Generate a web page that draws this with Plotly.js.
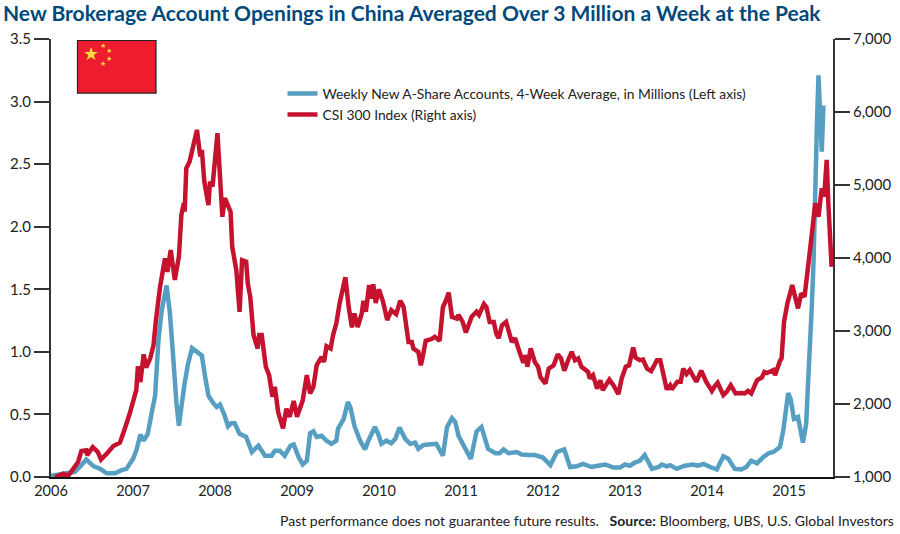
<!DOCTYPE html>
<html><head><meta charset="utf-8">
<script src="https://cdn.plot.ly/plotly-3.0.1.min.js"></script>
<style>html,body{margin:0;padding:0;background:#fff}#c{width:900px;height:534px}</style>
</head><body><div id="c"></div>
<script>
const chartTitle = "New Brokerage Account Openings in China Averaged Over 3 Million a Week at the Peak";
const blueName = "Weekly New A-Share Accounts, 4-Week Average, in Millions (Left axis)";
const redName = "CSI 300 Index (Right axis)";
const footer = "Past performance does not guarantee future results.   <b>Source:</b> Bloomberg, UBS, U.S. Global Investors";
const yearTicks = [2006,2007,2008,2009,2010,2011,2012,2013,2014,2015];

const accountYears = [2006.0,2006.19,2006.29,2006.35,2006.43,2006.52,2006.6,2006.68,2006.78,2006.86,2006.92,2007.0,2007.04,2007.09,2007.13,2007.18,2007.23,2007.27,2007.31,2007.35,2007.41,2007.45,2007.49,2007.53,2007.56,2007.59,2007.63,2007.67,2007.72,2007.78,2007.84,2007.88,2007.92,2007.98,2008.02,2008.06,2008.11,2008.16,2008.2,2008.24,2008.3,2008.38,2008.45,2008.53,2008.61,2008.69,2008.73,2008.79,2008.85,2008.92,2008.96,2009.02,2009.07,2009.12,2009.16,2009.2,2009.24,2009.3,2009.36,2009.42,2009.48,2009.5,2009.57,2009.62,2009.65,2009.7,2009.77,2009.83,2009.87,2009.95,2009.99,2010.03,2010.09,2010.15,2010.2,2010.25,2010.32,2010.38,2010.44,2010.48,2010.54,2010.6,2010.7,2010.78,2010.83,2010.89,2010.93,2010.97,2011.03,2011.12,2011.19,2011.25,2011.33,2011.42,2011.47,2011.52,2011.58,2011.68,2011.74,2011.82,2011.9,2012.0,2012.09,2012.17,2012.26,2012.33,2012.41,2012.49,2012.59,2012.67,2012.76,2012.86,2012.94,2013.0,2013.06,2013.12,2013.18,2013.24,2013.33,2013.41,2013.45,2013.51,2013.55,2013.63,2013.73,2013.83,2013.89,2013.96,2014.04,2014.12,2014.2,2014.26,2014.34,2014.42,2014.48,2014.54,2014.61,2014.69,2014.75,2014.81,2014.89,2014.93,2014.99,2015.02,2015.06,2015.11,2015.17,2015.21,2015.24,2015.28,2015.3,2015.34,2015.36,2015.4,2015.42];
const accountValues = [0.01,0.03,0.04,0.08,0.14,0.085,0.065,0.03,0.03,0.055,0.065,0.145,0.21,0.34,0.29,0.345,0.52,0.65,1.09,1.33,1.53,1.31,0.96,0.59,0.41,0.56,0.75,0.9,1.03,1.0,0.97,0.8,0.65,0.59,0.56,0.58,0.505,0.405,0.43,0.43,0.345,0.32,0.2,0.25,0.17,0.17,0.21,0.21,0.17,0.25,0.26,0.16,0.1,0.13,0.35,0.365,0.32,0.33,0.29,0.265,0.29,0.385,0.465,0.6,0.56,0.41,0.29,0.22,0.29,0.4,0.345,0.265,0.29,0.27,0.305,0.395,0.305,0.265,0.275,0.225,0.255,0.26,0.265,0.17,0.4,0.47,0.44,0.33,0.255,0.145,0.365,0.4,0.225,0.19,0.19,0.22,0.19,0.2,0.18,0.175,0.175,0.155,0.095,0.2,0.22,0.08,0.085,0.105,0.08,0.09,0.1,0.075,0.075,0.1,0.09,0.115,0.13,0.175,0.065,0.08,0.1,0.085,0.095,0.065,0.09,0.1,0.09,0.105,0.08,0.06,0.165,0.145,0.065,0.06,0.08,0.13,0.11,0.16,0.19,0.2,0.24,0.37,0.67,0.625,0.465,0.48,0.275,0.425,0.85,1.385,1.73,2.8,3.21,2.6,2.97];

const csiYears = [2006.05,2006.15,2006.21,2006.33,2006.37,2006.43,2006.44,2006.51,2006.57,2006.61,2006.68,2006.76,2006.84,2006.88,2006.92,2006.96,2007.0,2007.04,2007.06,2007.09,2007.13,2007.16,2007.21,2007.25,2007.28,2007.33,2007.39,2007.42,2007.46,2007.51,2007.56,2007.59,2007.62,2007.63,2007.65,2007.69,2007.78,2007.82,2007.84,2007.87,2007.92,2007.94,2007.97,2008.03,2008.09,2008.12,2008.19,2008.21,2008.26,2008.3,2008.33,2008.38,2008.4,2008.43,2008.47,2008.52,2008.54,2008.57,2008.62,2008.66,2008.7,2008.73,2008.77,2008.83,2008.87,2008.91,2008.96,2009.0,2009.07,2009.12,2009.16,2009.2,2009.24,2009.3,2009.33,2009.36,2009.41,2009.44,2009.48,2009.52,2009.59,2009.63,2009.67,2009.7,2009.74,2009.79,2009.81,2009.84,2009.88,2009.9,2009.93,2009.96,2010.0,2010.05,2010.1,2010.15,2010.21,2010.26,2010.3,2010.36,2010.4,2010.42,2010.48,2010.51,2010.53,2010.57,2010.64,2010.68,2010.74,2010.78,2010.81,2010.85,2010.89,2010.95,2010.97,2011.02,2011.06,2011.13,2011.19,2011.22,2011.28,2011.31,2011.35,2011.4,2011.43,2011.46,2011.5,2011.55,2011.62,2011.66,2011.7,2011.76,2011.79,2011.81,2011.85,2011.9,2011.94,2011.97,2012.03,2012.07,2012.13,2012.18,2012.22,2012.26,2012.31,2012.35,2012.39,2012.43,2012.47,2012.55,2012.57,2012.61,2012.66,2012.7,2012.73,2012.81,2012.86,2012.92,2012.96,2013.01,2013.05,2013.1,2013.13,2013.18,2013.22,2013.27,2013.32,2013.39,2013.43,2013.51,2013.55,2013.57,2013.64,2013.68,2013.71,2013.75,2013.79,2013.87,2013.93,2013.99,2014.06,2014.09,2014.13,2014.2,2014.24,2014.29,2014.35,2014.42,2014.46,2014.5,2014.54,2014.61,2014.67,2014.7,2014.73,2014.81,2014.83,2014.89,2014.91,2014.94,2014.98,2015.04,2015.11,2015.15,2015.19,2015.24,2015.28,2015.32,2015.36,2015.4,2015.43,2015.46,2015.48,2015.52];
const csiValues = [1000,1045,1015,1205,1355,1365,1300,1410,1345,1240,1320,1425,1470,1595,1730,1870,2030,2190,2520,2300,2680,2500,2625,2805,3150,3605,3995,3810,4110,3700,4020,4590,4750,4635,5230,5320,5755,5390,5480,5045,4725,5045,4980,5710,4565,4820,4635,4155,3835,3263,3970,3950,3650,3470,2945,2760,2945,2945,2510,2395,2100,2235,1890,1665,1935,1825,2040,1825,2050,2395,2145,2235,2530,2645,2575,2790,2760,2945,3105,3380,3735,3330,3050,3240,3055,3240,3415,3265,3630,3445,3640,3385,3570,3400,3150,3285,3230,3415,3330,2850,2850,2760,2715,2530,2625,2865,2890,2920,2865,3330,3400,3525,3195,3170,3220,3125,2980,3195,3265,3220,3370,3330,3125,3125,2965,2900,3080,3125,2850,2900,2760,2565,2670,2510,2760,2575,2510,2365,2280,2485,2530,2680,2625,2455,2610,2715,2600,2625,2510,2440,2350,2395,2210,2325,2190,2335,2255,2135,2350,2510,2530,2775,2635,2600,2610,2485,2450,2600,2600,2200,2255,2200,2305,2305,2485,2410,2465,2305,2455,2305,2180,2235,2290,2120,2165,2255,2145,2150,2145,2180,2145,2325,2365,2440,2425,2465,2395,2590,2625,3125,3375,3630,3310,3515,3470,3950,4340,4750,4565,4955,4840,5345,4750,3880];

const blue = "#569fc3", red = "#c4122f", ink = "#222222", axisInk = "#333333", navy = "#00497a", font = "Lato, 'Noto Sans', sans-serif";

const traces = [
  {x: accountYears, y: accountValues, name: blueName, type: "scatter", mode: "lines", yaxis: "y", cliponaxis: false,
   line: {color: blue, width: 4.5, simplify: false}, hoverinfo: "skip"},
  {x: csiYears, y: csiValues, name: redName, type: "scatter", mode: "lines", yaxis: "y2", cliponaxis: false,
   line: {color: red, width: 4.5, simplify: false}, hoverinfo: "skip"}
];

function star(px, py, size) {
  return {text: "★", xref: "paper", yref: "paper", x: (px - 51) / 782, y: (476.7 - py) / 437.7,
          xanchor: "center", yanchor: "middle", showarrow: false,
          font: {family: "'DejaVu Sans'", size: size, color: "#fddc3c"}};
}

const layout = {
  width: 900, height: 534, margin: {l: 51, r: 67, t: 39, b: 57.3},
  paper_bgcolor: "#fff", plot_bgcolor: "#fff", font: {family: font, color: ink, size: 14},
  title: {text: "<b>" + chartTitle + "</b>", x: 3 / 900, xanchor: "left", xref: "container",
          y: 1 - 14 / 534, yanchor: "middle", yref: "container", font: {family: font, size: 21, color: navy}},
  showlegend: true,
  legend: {x: (282.5 - 51) / 782, y: (476.7 - 78) / 437.7, xanchor: "left", yanchor: "top", traceorder: "normal",
           bgcolor: "rgba(0,0,0,0)", borderwidth: 0, itemwidth: 30, tracegroupgap: 0,
           font: {family: font, size: 13.8, color: ink}},
  xaxis: {range: [2006, 2015.537], tickmode: "array", tickvals: yearTicks, ticktext: yearTicks.map(String),
          ticks: "", showgrid: false, zeroline: false, showline: true, linecolor: "#111", linewidth: 2,
          tickfont: {family: font, size: 14.5, color: ink}, automargin: false},
  yaxis: {range: [0, 3.5], dtick: 0.5, tick0: 0, tickformat: ".1f", ticks: "outside", ticklen: 15, tickwidth: 2,
          tickcolor: axisInk, showgrid: false, zeroline: false, showline: true, linecolor: axisInk, linewidth: 2,
          tickfont: {family: font, size: 15, color: ink}, automargin: false},
  yaxis2: {range: [1000, 7000], dtick: 1000, tick0: 1000, tickformat: ",d", overlaying: "y", side: "right",
           ticks: "outside", ticklen: 15, tickwidth: 2, tickcolor: axisInk, showgrid: false, zeroline: false,
           showline: true, linecolor: axisInk, linewidth: 2,
           tickfont: {family: font, size: 15, color: ink}, automargin: false},
  shapes: [{type: "rect", xref: "paper", yref: "paper", x0: (77.5 - 51) / 782, x1: (156 - 51) / 782,
            y0: (476.7 - 93) / 437.7, y1: (476.7 - 40.5) / 437.7, fillcolor: "#ee1c2e",
            line: {color: "#222", width: 1.2}}],
  annotations: [
    star(90.7, 53.5, 18), star(103.3, 45.7, 7), star(108.7, 50.7, 7), star(108.7, 59, 7), star(103.3, 64, 7),
    {text: footer, xref: "paper", yref: "paper", x: (896 - 51) / 782, y: (476.7 - 520) / 437.7,
     xanchor: "right", yanchor: "middle", showarrow: false, font: {family: font, size: 14, color: ink}}
  ]
};
Plotly.newPlot("c", traces, layout, {staticPlot: true, displayModeBar: false});
</script></body></html>
